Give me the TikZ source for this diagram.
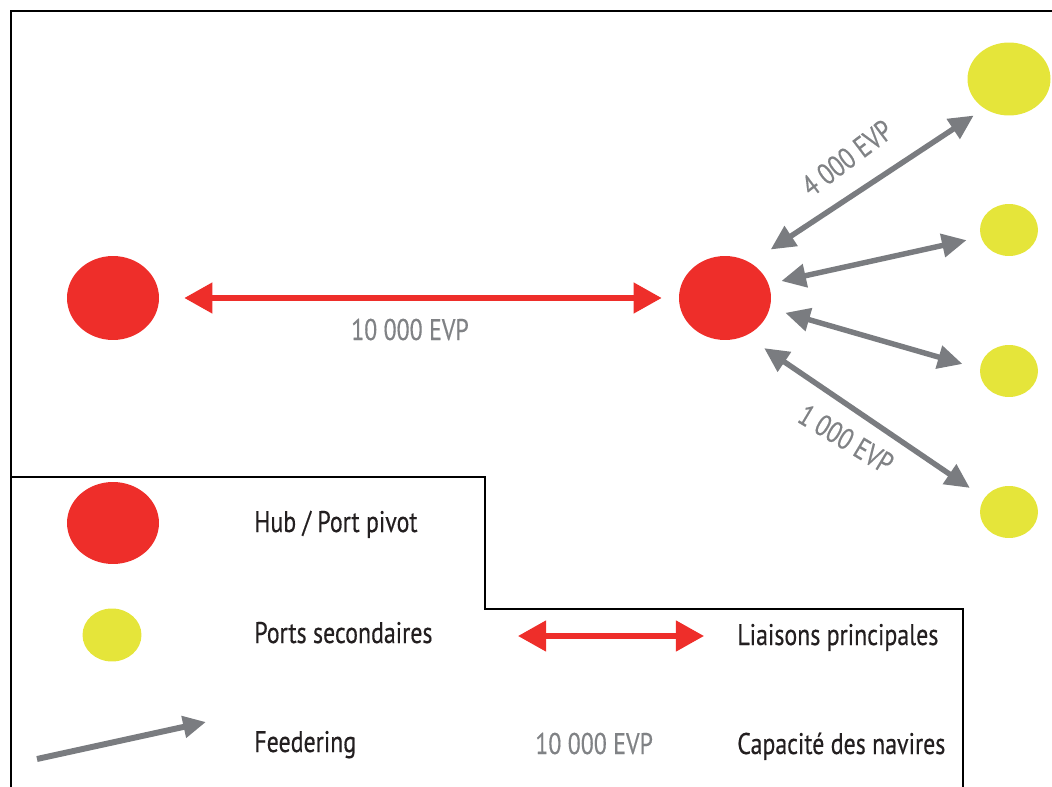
\documentclass[tikz,border=0pt]{standalone}
\usepackage{fontspec}
\setmainfont[FakeStretch=0.8,FakeBold=0.4]{PT Sans}
\usetikzlibrary{arrows.meta,shapes.geometric}

\definecolor{hubred}{RGB}{238,46,42}
\definecolor{portyellow}{RGB}{229,229,58}
\definecolor{feedgray}{RGB}{122,124,128}
\definecolor{capagray}{RGB}{128,130,133}
\definecolor{legblack}{RGB}{35,31,32}

\tikzset{
    hub/.style={ellipse, fill=hubred, inner sep=0pt, minimum width=1.84cm, minimum height=1.68cm},
    port/.style={ellipse, fill=portyellow, inner sep=0pt, minimum width=1.16cm, minimum height=1.04cm},
    mainlink/.style={draw=hubred, line width=3pt, {Triangle[length=16pt,width=17pt]}-{Triangle[length=16pt,width=17pt]}},
    feeder/.style={draw=feedgray, line width=3.1pt, {Triangle[length=14pt,width=13pt]}-{Triangle[length=14pt,width=13pt]}},
    feedlegend/.style={draw=feedgray, line width=3.4pt, -{Triangle[length=13pt,width=12pt]}},
    capa/.style={text=capagray, inner sep=0pt, font=\fontsize{17}{19}\selectfont},
    legtext/.style={anchor=base west, inner sep=0pt, text=legblack, font=\fontsize{17}{19}\selectfont}
}

\begin{document}
\begin{tikzpicture}[x=0.02cm, y=-0.02cm]
        \useasboundingbox (0,0) rectangle (1052,787);

        % cadre
        \draw[line width=1.3pt] (11,800) -- (11,11) -- (1060,11);
        \draw[line width=0.9pt] (11,477) -- (485,477) -- (485,609) -- (963,609) -- (963,800);

        % ports
        \node[hub] (hubW) at (113,298) {};
        \node[hub] (hubE) at (725,298) {};
        \node[port, minimum width=1.66cm, minimum height=1.46cm] (portA) at (1009,79) {};
        \node[port] (portB) at (1009,230) {};
        \node[port] (portC) at (1009,371) {};
        \node[port] (portD) at (1009,512) {};

        \draw[mainlink, shorten <=0.5cm, shorten >=0.34cm] (hubW.east) -- (hubE.west);
        \node[capa, anchor=base] (capaMain) at (410,340) {10 000 EVP};

        \draw[feeder, shorten <=0.48cm, shorten >=0.25cm] (hubE.54) -- (portA.230);
        \draw[feeder, shorten <=0.26cm, shorten >=0.29cm] (hubE.18) -- (portB.194);
        \draw[feeder, shorten <=0.32cm, shorten >=0.36cm] (hubE.-13) -- (portC.176);
        \draw[feeder, shorten <=0.44cm, shorten >=0.35cm] (hubE.-61) -- (portD.150);
        \node[capa, rotate=37] (capaA) at (847,158) {4 000 EVP};
        \node[capa, rotate=-31] (capaD) at (846,439) {1 000 EVP};

        % legende
        \node[hub, minimum height=1.64cm] (legHub) at (113,523) {};
        \node[port, minimum width=1.18cm, minimum height=1.06cm] (legPort) at (112,635) {};
        \coordinate (feedTail) at (37,759);
        \coordinate (feedTip) at (206,722);
        \draw[feedlegend] (feedTail) -- (feedTip);
        \coordinate (linkL) at (518,636);
        \coordinate (linkR) at (704,636);
        \draw[mainlink] (linkL) -- (linkR);

        \node[legtext] (txtHub) at (254,532) {Hub / Port pivot};
        \node[legtext] (txtPort) at (254,643) {Ports secondaires};
        \node[legtext] (txtFeed) at (254,752) {Feedering};
        \node[legtext] (txtLink) at (737,645) {Liaisons principales};
        \node[capa, anchor=base west] (capaLeg) at (535,754) {10 000 EVP};
        \node[legtext] (txtCapa) at (737,754) {Capacité des navires};

    \end{tikzpicture}
\end{document}
